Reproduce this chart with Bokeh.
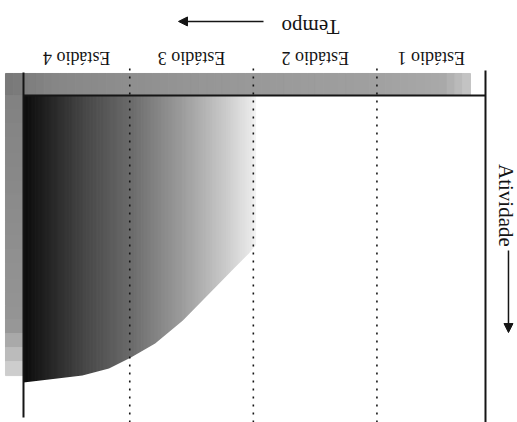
import numpy as np
from bokeh.plotting import figure
from bokeh.models import Range1d, Arrow, NormalHead
from bokeh.core.properties import value
from bokeh.embed import file_html
from bokeh.resources import INLINE

# ---- data ----
stage_labels = ["Estádio 1", "Estádio 2", "Estádio 3", "Estádio 4"]
stage_bounds = [0.0, 0.94, 2.01, 3.08, 4.0]          # time (stage units), grows to the left
curve_time = [4.0, 3.78, 3.49, 3.26, 3.07, 2.86, 2.62, 2.45, 2.28, 2.17, 2.05, 1.99]
curve_activity = [1.0, 0.99, 0.976, 0.951, 0.913, 0.864, 0.784, 0.714, 0.645, 0.599, 0.551, 0.523]
time_label = "Tempo"
activity_label = "Atividade"

# ---- styling of the shading (gray level by time) ----
shade_t = [1.98, 2.04, 2.29, 2.64, 3.07, 3.49, 3.84, 4.0]
shade_gray = [250, 232, 198, 155, 108, 70, 30, 12]

FONT = value("Liberation Serif")
INK = "#151515"

p = figure(width=517, height=422,
           x_range=Range1d(4.1991, -0.2771), y_range=Range1d(1.1394, -0.3310),
           output_backend="svg", toolbar_location=None, min_border=0,
           x_axis_location=None, y_axis_location=None)
p.grid.visible = False
p.outline_line_color = None
p.background_fill_color = "white"
p.border_fill_color = "white"

t_min = curve_time[-1]
t_max = stage_bounds[-1]
a_max = max(curve_activity)


def grays(levels):
    return ["#%02x%02x%02x" % (int(v), int(v), int(v)) for v in levels]


# stippled gray band above the time axis
band_edges = np.linspace(t_max + 0.156, 0.13, 61)
band_mid = 0.5 * (band_edges[:-1] + band_edges[1:])
band_cols = grays(np.interp(band_mid, [0.13, 0.35, 1.0, 2.5, 3.7, 4.16], [200, 170, 160, 150, 135, 120]))
p.quad(left=band_edges[:-1], right=band_edges[1:], top=-0.0767, bottom=0.0,
       fill_color=band_cols, line_color=band_cols, line_width=1)

# stippled band left of the activity axis
side_edges = np.linspace(0.0, 0.976, 21)
side_mid = 0.5 * (side_edges[:-1] + side_edges[1:])
side_cols = grays(np.interp(side_mid, [0.0, 0.8, 0.976], [130, 150, 215]))
p.quad(left=t_max + 0.156, right=t_max, top=side_edges[:-1], bottom=side_edges[1:],
       fill_color=side_cols, line_color=side_cols, line_width=1)

# gradient shading under the activity curve
n = 100
edges = np.linspace(t_min, t_max, n + 1)
mids = 0.5 * (edges[:-1] + edges[1:])
cols = grays(np.interp(mids, shade_t, shade_gray))
p.quad(left=edges[:-1], right=edges[1:], top=0.0, bottom=a_max,
       fill_color=cols, line_color=cols, line_width=1)

# white mask below the curve
p.patch(x=curve_time + [t_min - 0.02, t_min - 0.02, t_max],
        y=curve_activity + [curve_activity[-1], a_max + 0.01, a_max + 0.01],
        fill_color="white", line_color=None)

# axes and frame lines
p.segment(x0=[t_max], y0=[-0.080], x1=[t_max], y1=[1.122], line_color=INK, line_width=2)
p.segment(x0=[stage_bounds[0]], y0=[-0.087], x1=[stage_bounds[0]], y1=[1.15], line_color=INK, line_width=2)
p.segment(x0=[stage_bounds[0]], y0=[0.0], x1=[t_max], y1=[0.0], line_color=INK, line_width=2)

# dotted stage dividers
inner = stage_bounds[1:-1]
p.segment(x0=inner, y0=[-0.094] * len(inner), x1=inner, y1=[1.15] * len(inner),
          line_color=INK, line_width=1.6, line_dash="2 6")

# stage labels (upside down)
label_x = [0.5 * (stage_bounds[i] + stage_bounds[i + 1]) for i in range(4)]
p.text(x=label_x, y=[-0.132] * 4, text=stage_labels, angle=np.pi,
       text_align="center", text_baseline="middle",
       text_font=FONT, text_font_size=value("18px"), text_color=INK)

# time label + arrow
p.text(x=[1.515], y=[-0.237], text=[time_label], angle=np.pi,
       text_align="center", text_baseline="middle",
       text_font=FONT, text_font_size=value("21px"), text_color=INK)
p.add_layout(Arrow(end=NormalHead(size=9, fill_color=INK, line_color=INK),
                   x_start=1.922, y_start=-0.258, x_end=2.658, y_end=-0.258,
                   line_color=INK, line_width=1.5))

# activity label + arrow
p.text(x=[-0.178], y=[0.383], text=[activity_label], angle=-np.pi / 2,
       text_align="center", text_baseline="middle",
       text_font=FONT, text_font_size=value("21px"), text_color=INK)
p.add_layout(Arrow(end=NormalHead(size=9, fill_color=INK, line_color=INK),
                   x_start=-0.199, y_start=0.540, x_end=-0.199, y_end=0.826,
                   line_color=INK, line_width=1.5))

open("out.html", "w").write(file_html(p, INLINE))
